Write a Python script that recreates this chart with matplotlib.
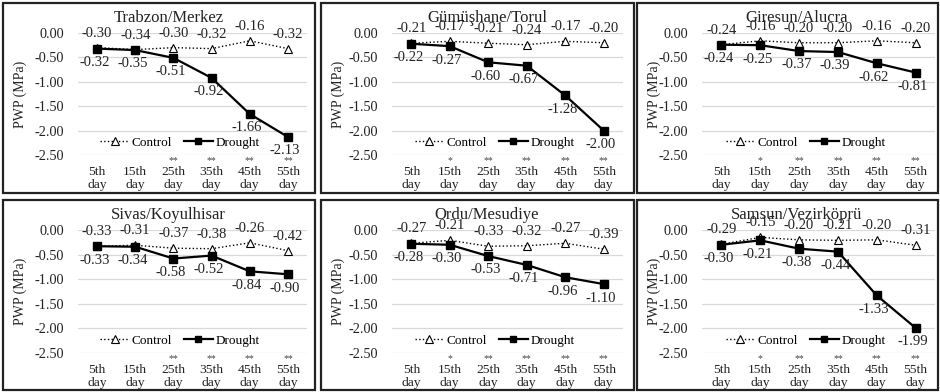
import matplotlib
matplotlib.use("Agg")
import matplotlib.pyplot as plt
from matplotlib.patches import Rectangle
from matplotlib.lines import Line2D

plt.rcParams['font.family'] = ['Liberation Serif', 'DejaVu Serif']

days = ["5th\nday", "15th\nday", "25th\nday", "35th\nday", "45th\nday", "55th\nday"]

titles = ["Trabzon/Merkez", "Gümüşhane/Torul", "Giresun/Alucra",
          "Sivas/Koyulhisar", "Ordu/Mesudiye", "Samsun/Vezirköprü"]

control_trabzon = [-0.30, -0.34, -0.30, -0.32, -0.16, -0.32]
drought_trabzon = [-0.32, -0.35, -0.51, -0.92, -1.66, -2.13]
control_gumushane = [-0.21, -0.17, -0.21, -0.24, -0.17, -0.20]
drought_gumushane = [-0.22, -0.27, -0.60, -0.67, -1.28, -2.00]
control_giresun = [-0.24, -0.16, -0.20, -0.20, -0.16, -0.20]
drought_giresun = [-0.24, -0.25, -0.37, -0.39, -0.62, -0.81]
control_sivas = [-0.33, -0.31, -0.37, -0.38, -0.26, -0.42]
drought_sivas = [-0.33, -0.34, -0.58, -0.52, -0.84, -0.90]
control_ordu = [-0.27, -0.21, -0.33, -0.32, -0.27, -0.39]
drought_ordu = [-0.28, -0.30, -0.53, -0.71, -0.96, -1.10]
control_samsun = [-0.29, -0.15, -0.20, -0.21, -0.20, -0.31]
drought_samsun = [-0.30, -0.21, -0.38, -0.44, -1.33, -1.99]

stars_trabzon = ["", "", "**", "**", "**", "**"]
stars_gumushane = ["", "*", "**", "**", "**", "**"]
stars_giresun = ["", "*", "**", "**", "**", "**"]
stars_sivas = ["", "", "**", "**", "**", "**"]
stars_ordu = ["", "*", "**", "**", "**", "**"]
stars_samsun = ["", "*", "**", "**", "**", "**"]

controls = [control_trabzon, control_gumushane, control_giresun,
            control_sivas, control_ordu, control_samsun]
droughts = [drought_trabzon, drought_gumushane, drought_giresun,
            drought_sivas, drought_ordu, drought_samsun]
stars = [stars_trabzon, stars_gumushane, stars_giresun,
         stars_sivas, stars_ordu, stars_samsun]

yticks = [0.0, -0.5, -1.0, -1.5, -2.0, -2.5]

W, H = 940, 392
fig = plt.figure(figsize=(W / 100, H / 100), dpi=100)


def fx(x):
    return x / W


def fy(y):
    return 1 - y / H


# panel boxes and plot areas in pixels (left, right) / (top, bottom)
panel_x = [(3, 315), (321, 634), (637, 938)]
panel_y = [(3, 193), (200, 390)]
axes_x = [(78, 307), (392, 623), (702, 935)]
axes_y = [(33, 155), (230, 353)]

for i in range(6):
    r, c = divmod(i, 3)
    px0, px1 = panel_x[c]
    py0, py1 = panel_y[r]
    fig.patches.append(Rectangle((fx(px0), fy(py1)), fx(px1 - px0), (py1 - py0) / H,
                                 transform=fig.transFigure, fill=False,
                                 edgecolor="#222222", linewidth=1.6))
    ax0, ax1 = axes_x[c]
    ay0, ay1 = axes_y[r]
    ax = fig.add_axes([fx(ax0), fy(ay1), fx(ax1 - ax0), (ay1 - ay0) / H])
    x = list(range(len(days)))

    ax.plot(x, controls[i], linestyle=":", color="black", linewidth=1.0,
            marker="^", markersize=6, markerfacecolor="white",
            markeredgecolor="black", markeredgewidth=0.8, clip_on=False,
            label="Control", zorder=3)
    ax.plot(x, droughts[i], linestyle="-", color="black", linewidth=1.6,
            marker="s", markersize=6, markerfacecolor="black",
            markeredgecolor="black", clip_on=False, label="Drought", zorder=4)

    for xi, v in zip(x, controls[i]):
        ax.annotate(f"{v:.2f}", (xi, v), xytext=(0, 10.5), textcoords="offset points",
                    ha="center", va="center", fontsize=10.5, color="#222222", zorder=5)
    for xi, v in zip(x, droughts[i]):
        ax.annotate(f"{v:.2f}", (xi, v), xytext=(-2, -10), textcoords="offset points",
                    ha="center", va="center", fontsize=10.5, color="#222222", zorder=5)
    for xi, s in zip(x, stars[i]):
        if s:
            ax.text(xi, -0.005, s, transform=ax.get_xaxis_transform(),
                    ha="center", va="top", fontsize=7, color="#444444")

    ax.set_xlim(-0.5, 5.5)
    ax.set_ylim(-2.5, 0.0)
    ax.set_yticks(yticks)
    ax.set_yticklabels([f"{t:.2f}" for t in yticks])
    ax.set_xticks(x)
    ax.set_xticklabels(days, linespacing=1.15)
    ax.tick_params(axis="both", length=0, colors="#222222")
    ax.tick_params(axis="x", pad=8, labelsize=9.7)
    ax.tick_params(axis="y", pad=10, labelsize=10.3)
    ax.grid(axis="y", color="#d9d9d9", linewidth=0.9)
    ax.set_axisbelow(True)
    for sp in ax.spines.values():
        sp.set_visible(False)

    handles = [Line2D([], [], linestyle=":", color="black", linewidth=1.0, marker="^",
                      markersize=6, markerfacecolor="white", markeredgecolor="black",
                      markeredgewidth=0.8),
               Line2D([], [], linestyle="-", color="black", linewidth=1.6, marker="s",
                      markersize=5, markerfacecolor="black")]
    ax.legend(handles, ["Control", "Drought"], loc="center", bbox_to_anchor=(0.445, 0.1),
              ncol=2, frameon=False, fontsize=9.5, handlelength=2.2, handletextpad=0.2,
              columnspacing=0.9, borderpad=0)

    fig.text(fx((px0 + px1) / 2 + 0.03 * (px1 - px0)), fy(py0 + 15), titles[i],
             ha="center", va="center", fontsize=12, color="#222222")
    fig.text(fx(px0 + 17), fy((ay0 + ay1) / 2), "PWP (MPa)", rotation=90,
             ha="center", va="center", fontsize=10, color="#222222")

fig.savefig("out.png", dpi=100, facecolor="white")
